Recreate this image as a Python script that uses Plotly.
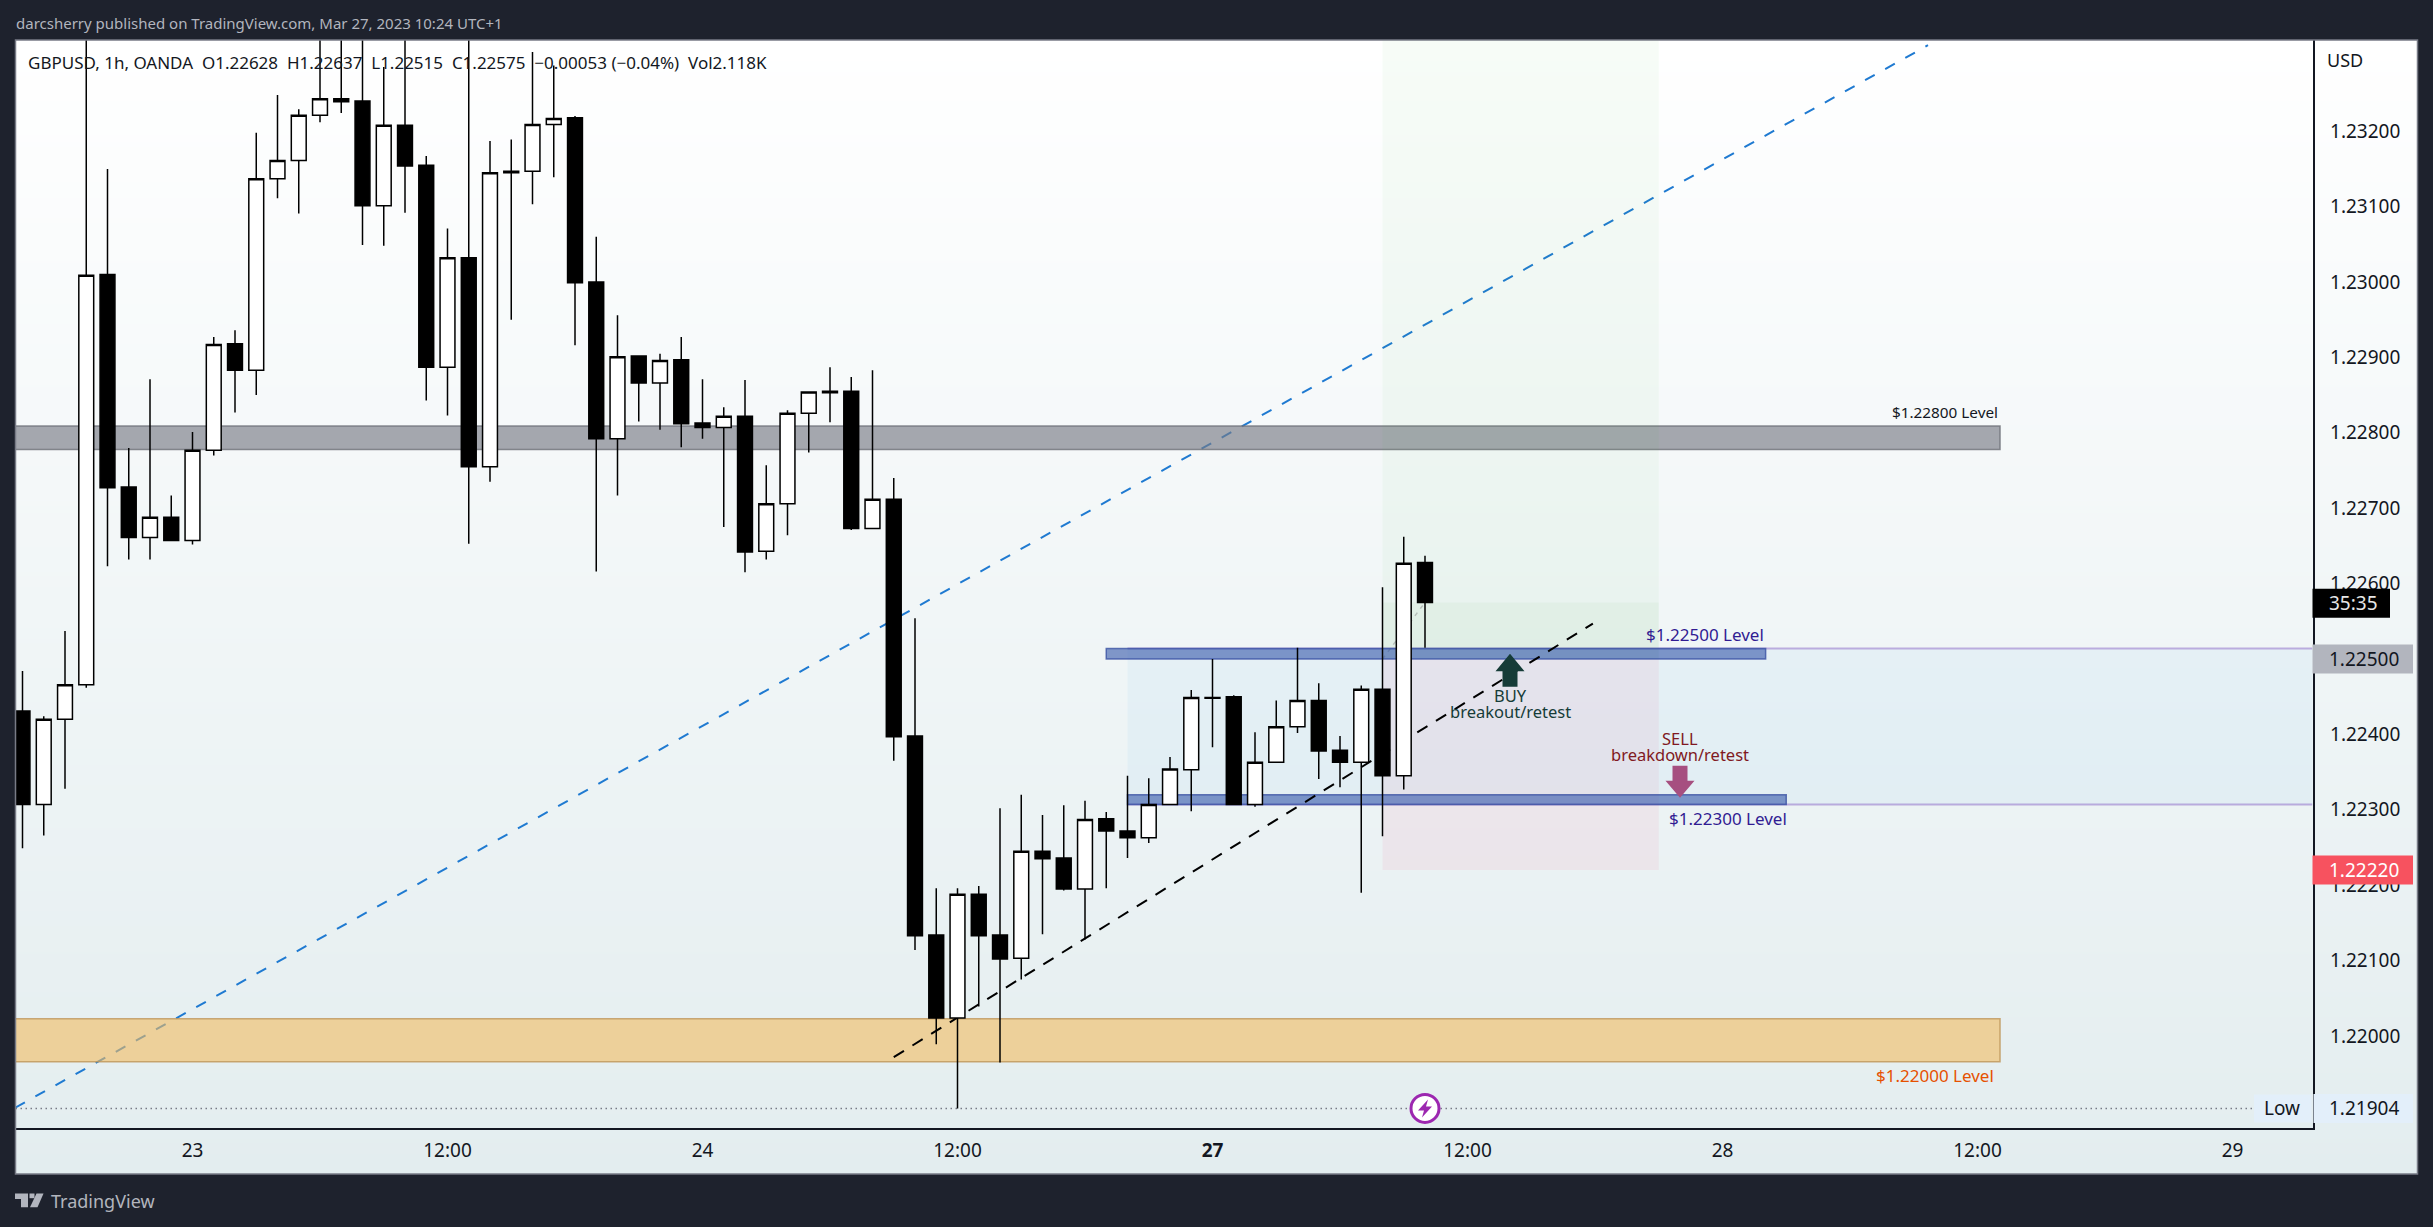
import plotly.graph_objects as go

opens = [1.22431, 1.22307, 1.22420, 1.22466, 1.23010, 1.22728, 1.22661, 1.22688, 1.22657, 1.22777,
         1.22918, 1.22883, 1.23137, 1.23161, 1.23221, 1.23243, 1.23240, 1.23101, 1.23208, 1.23155,
         1.22887, 1.23032, 1.22755, 1.23147, 1.23147, 1.23209, 1.23218, 1.23000, 1.22792, 1.22902,
         1.22866, 1.22897, 1.22813, 1.22807, 1.22822, 1.22643, 1.22706, 1.22826, 1.22855, 1.22855,
         1.22673, 1.22712, 1.22398, 1.22134, 1.22024, 1.22188, 1.22134, 1.22103, 1.22245, 1.22236,
         1.22195, 1.22288, 1.22272, 1.22263, 1.22307, 1.22353, 1.22449, 1.22450, 1.22307, 1.22363,
         1.22410, 1.22445, 1.22379, 1.22363, 1.22460, 1.22345, 1.22628]
highs = [1.22484, 1.22424, 1.22537, 1.23400, 1.23150, 1.22780, 1.22871, 1.22717, 1.22801, 1.22927,
         1.22936, 1.23198, 1.23248, 1.23229, 1.23400, 1.23400, 1.23400, 1.23285, 1.23400, 1.23167,
         1.23071, 1.23400, 1.23187, 1.23189, 1.23305, 1.23287, 1.23220, 1.23060, 1.22956, 1.22902,
         1.22905, 1.22927, 1.22871, 1.22834, 1.22870, 1.22757, 1.22830, 1.22855, 1.22887, 1.22874,
         1.22883, 1.22740, 1.22554, 1.22196, 1.22196, 1.22199, 1.22302, 1.22320, 1.22293, 1.22306,
         1.22312, 1.22297, 1.22345, 1.22342, 1.22370, 1.22459, 1.22500, 1.22452, 1.22403, 1.22445,
         1.22515, 1.22468, 1.22398, 1.22465, 1.22595, 1.22662, 1.22637]
lows = [1.22249, 1.22266, 1.22328, 1.22462, 1.22623, 1.22632, 1.22632, 1.22657, 1.22652, 1.22770,
        1.22827, 1.22850, 1.23111, 1.23091, 1.23212, 1.23224, 1.23049, 1.23048, 1.23092, 1.22843,
        1.22823, 1.22653, 1.22735, 1.22950, 1.23103, 1.23139, 1.22916, 1.22616, 1.22717, 1.22815,
        1.22804, 1.22781, 1.22792, 1.22675, 1.22615, 1.22632, 1.22664, 1.22774, 1.22814, 1.22671,
        1.22673, 1.22365, 1.22114, 1.21989, 1.21904, 1.22039, 1.21965, 1.22075, 1.22135, 1.22193,
        1.22128, 1.22196, 1.22236, 1.22256, 1.22307, 1.22298, 1.22383, 1.22307, 1.22304, 1.22363,
        1.22402, 1.22341, 1.22330, 1.22190, 1.22265, 1.22327, 1.22515]
closes = [1.22307, 1.22420, 1.22466, 1.23009, 1.22727, 1.22661, 1.22688, 1.22657, 1.22777, 1.22917,
          1.22883, 1.23137, 1.23161, 1.23221, 1.23243, 1.23239, 1.23101, 1.23208, 1.23154, 1.22887,
          1.23032, 1.22755, 1.23145, 1.23145, 1.23209, 1.23217, 1.22999, 1.22792, 1.22901, 1.22866,
          1.22896, 1.22812, 1.22807, 1.22822, 1.22642, 1.22706, 1.22826, 1.22854, 1.22853, 1.22673,
          1.22712, 1.22397, 1.22133, 1.22024, 1.22188, 1.22133, 1.22102, 1.22245, 1.22235, 1.22195,
          1.22287, 1.22272, 1.22263, 1.22307, 1.22354, 1.22449, 1.22448, 1.22307, 1.22363, 1.22410,
          1.22445, 1.22378, 1.22363, 1.22460, 1.22345, 1.22627, 1.22575]
bars = list(range(len(closes)))

time_tick_bars = [8, 20, 32, 44, 56, 68, 80, 92, 104]
time_tick_labels = ["23", "12:00", "24", "12:00", "<b>27</b>", "12:00", "28", "12:00", "29"]
price_ticks = [1.232, 1.231, 1.230, 1.229, 1.228, 1.227, 1.226, 1.225, 1.224, 1.223, 1.222, 1.221, 1.220]
price_tick_labels = ["%.5f" % p for p in price_ticks]

grey_zone = [1.22778, 1.22809]
orange_zone = [1.21966, 1.22023]
upper_zone = [1.22500, 1.22514]
lower_zone = [1.22307, 1.22320]
low_price = 1.21904
stop_price = 1.22220
entry_price = 1.22500
last_close = 1.22575
blue_trend = [(-0.34, 1.21905), (89.67, 1.23314)]
black_trend = [(41.0, 1.21972), (73.9, 1.22547)]

W, H = 2433, 1227
DARK = "#1e222d"
INK = "#131722"
FONT = "Noto Sans"

PANE_L, PANE_R, PANE_T, PANE_B = 15.5, 2417.5, 40, 1174
CHART_R, CHART_B = 2312.5, 1128
X_RANGE = [(PANE_L - 22.5) / 21.25, (CHART_R - 22.5) / 21.25]
Y_RANGE = [1.22 + (1036 - CHART_B) / 75400, 1.22 + (1036 - PANE_T) / 75400]


def below(kind, x0, x1, y0, y1, fill=None, line=None, width=0, dash=None):
    return dict(type=kind, xref="x2", yref="y2", x0=x0, x1=x1, y0=y0, y1=y1, layer="below",
                fillcolor=fill, line=dict(color=line, width=width, dash=dash))


def label(x, y, text, color, size=16.5, anchor="center"):
    return dict(x=x, y=y, xref="x2", yref="y2", text=text, showarrow=False, xanchor=anchor,
                yanchor="middle", font=dict(family=FONT, size=size, color=color))


def pixel_path(x, y, path, fill, xref="x2", yref="y2"):
    return dict(type="path", xref=xref, yref=yref, xsizemode="pixel", ysizemode="pixel",
                xanchor=x, yanchor=y, path=path, fillcolor=fill, line=dict(width=0), layer="above")


def price_tag(price, text, fill, color, x0=2312.5, x1=2413, h=29):
    shape = dict(type="rect", xref="paper", yref="y2", ysizemode="pixel", yanchor=price,
                 x0=x0 / W, x1=x1 / W, y0=-h / 2, y1=h / 2, fillcolor=fill,
                 line=dict(width=0), layer="above")
    note = dict(x=2327 / W, y=price, xref="paper", yref="y2", text=text, showarrow=False,
                xanchor="left", yanchor="middle", font=dict(family=FONT, size=19, color=color))
    return shape, note


fig = go.Figure()

# the pale gradient behind everything, on its own axes so it also covers the price and time scales
fig.add_trace(go.Heatmap(x=[0, 1], y=[0, 1], z=[[1, 1], [0, 0]], zsmooth="best", showscale=False,
                         colorscale=[[0, "#ffffff"], [1, "#e3edef"]],
                         hoverinfo="skip", xaxis="x", yaxis="y"))

fig.add_trace(go.Candlestick(x=bars, open=opens, high=highs, low=lows, close=closes,
                             xaxis="x2", yaxis="y2", whiskerwidth=0,
                             increasing=dict(fillcolor="#ffffff", line=dict(color="#000000", width=1.5)),
                             decreasing=dict(fillcolor="#000000", line=dict(color="#000000", width=1.5)),
                             showlegend=False))

shapes = [
    below("line", blue_trend[0][0], blue_trend[1][0], blue_trend[0][1], blue_trend[1][1],
          line="#1f7ad1", width=2, dash="11px,12px"),
    below("rect", X_RANGE[0] - 2, 93.06, grey_zone[0], grey_zone[1],
          fill="rgba(120,123,134,0.65)", line="rgba(110,113,120,0.8)", width=1.5),
    below("rect", X_RANGE[0] - 2, 93.06, orange_zone[0], orange_zone[1],
          fill="rgba(242,186,96,0.6)", line="rgba(190,150,90,0.8)", width=1.5),
    below("rect", 52, X_RANGE[1] + 2, lower_zone[0], upper_zone[1], fill="rgba(33,150,243,0.05)"),
    below("line", 52, X_RANGE[1], upper_zone[1], upper_zone[1], line="rgba(126,87,194,0.45)", width=2),
    below("line", 52, X_RANGE[1], lower_zone[0], lower_zone[0], line="rgba(126,87,194,0.45)", width=2),
    below("rect", 64, 77, entry_price, Y_RANGE[1] + 0.001, fill="rgba(76,175,80,0.045)"),
    below("rect", 64, 77, stop_price, entry_price, fill="rgba(233,30,99,0.06)"),
    below("rect", 64, 77, entry_price, last_close, fill="rgba(76,175,80,0.05)"),
    below("line", 64, 66, entry_price, last_close, line="rgba(130,130,130,0.45)", width=1.5, dash="4px,5px"),
    below("rect", 51, 82.03, upper_zone[0], upper_zone[1],
          fill="rgba(52,86,170,0.6)", line="rgba(52,76,160,0.75)", width=1.5),
    below("rect", 52, 83, lower_zone[0], lower_zone[1],
          fill="rgba(52,86,170,0.6)", line="rgba(52,76,160,0.75)", width=1.5),
    below("line", X_RANGE[0], 105, low_price, low_price, line="#787b86", width=1.5, dash="1.5px,3.5px"),
    below("line", black_trend[0][0], black_trend[1][0], black_trend[0][1], black_trend[1][1],
          line="#000000", width=2, dash="12px,10px"),
    # buy and sell arrows, lightning bolt
    pixel_path(70, 1.22507, "M0,0 L14.5,-17.5 L7.5,-17.5 L7.5,-33 L-7.5,-33 L-7.5,-17.5 L-14.5,-17.5 Z", "#163c38"),
    pixel_path(78, 1.22316, "M0,0 L14.5,17 L7.5,17 L7.5,32 L-7.5,32 L-7.5,17 L-14.5,17 Z", "#a64f80"),
    pixel_path(66, low_price, "M3,9 L-7,-2 L-1,-2 L-3,-9 L7,2 L1,2 Z", "#9c27b0"),
    # TradingView logo
    pixel_path(15 / W, 1 - 1193.5 / H, "M0,0 L13,0 L13,-13.7 L6,-13.7 L6,-5.5 L0,-5.5 Z", "#b2b5be", "paper", "paper"),
    pixel_path(15 / W, 1 - 1193.5 / H, "M21.5,0 L28.5,0 L22.5,-13.7 L15,-13.7 Z", "#b2b5be", "paper", "paper"),
    pixel_path(15 / W, 1 - 1193.5 / H, "M14.5,0 L19.5,0 L19.5,-4.7 L14.5,-4.7 Z", "#b2b5be", "paper", "paper"),
    # pane frame
    dict(type="rect", xref="paper", yref="paper", x0=PANE_L / W, x1=PANE_R / W,
         y0=1 - PANE_B / H, y1=1 - PANE_T / H, line=dict(color="#787b86", width=1.5), layer="above"),
]

annotations = [
    dict(x=14 / W, y=1 - 23 / H, xref="paper", yref="paper", showarrow=False, xanchor="left", yanchor="middle",
         text="darcsherry published on TradingView.com, Mar 27, 2023 10:24 UTC+1",
         font=dict(family=FONT, size=15, color="#b2b5be")),
    dict(x=26 / W, y=1 - 62 / H, xref="paper", yref="paper", showarrow=False, xanchor="left", yanchor="middle",
         text="GBPUSD, 1h, OANDA\u00a0\u00a0O1.22628\u00a0\u00a0H1.22637\u00a0\u00a0L1.22515\u00a0\u00a0C1.22575"
              "\u00a0\u00a0\u22120.00053 (\u22120.04%)\u00a0\u00a0Vol2.118K",
         font=dict(family=FONT, size=17, color=INK)),
    dict(x=2325 / W, y=1 - 60 / H, xref="paper", yref="paper", showarrow=False, xanchor="left", yanchor="middle",
         text="USD", font=dict(family=FONT, size=18, color=INK)),
    dict(x=49 / W, y=1 - 1201 / H, xref="paper", yref="paper", showarrow=False, xanchor="left", yanchor="middle",
         text="TradingView", font=dict(family=FONT, size=18, color="#b2b5be")),
    label(93.05, 1.22828, "$1.22800 Level", INK, 15.3, "right"),
    label(82.05, 1.22533, "$1.22500 Level", "#311b92", 17, "right"),
    label(83.12, 1.22288, "$1.22300 Level", "#311b92", 17, "right"),
    label(92.85, 1.21948, "$1.22000 Level", "#e65100", 17, "right"),
    label(70, 1.22452, "BUY", "#163c38"),
    label(70, 1.22431, "breakout/retest", "#163c38"),
    label(78, 1.22395, "SELL", "#801922"),
    label(78, 1.22374, "breakdown/retest", "#801922"),
    dict(x=2282 / W, y=low_price, xref="paper", yref="y2", text="Low", showarrow=False,
         xanchor="center", yanchor="middle", font=dict(family=FONT, size=19, color=INK)),
]

for price, text, fill, color in [(entry_price, "1.22500", "#b2b5be", INK),
                                 (stop_price, "1.22220", "#f7525f", "#ffffff"),
                                 (low_price, "1.21904", "#e3effa", INK)]:
    s, a = price_tag(price, text, fill, color, x0=2313.5 if price == low_price else 2312.5)
    shapes.append(s)
    annotations.append(a)

# countdown tag and the left half of the Low tag
s, a = price_tag(1.22574, "35:35", "#000000", "#e6e6e6", x1=2390)
shapes.append(s)
annotations.append(a)
shapes.append(dict(type="rect", xref="paper", yref="y2", ysizemode="pixel", yanchor=low_price,
                   x0=2254 / W, x1=2311.5 / W, y0=-14, y1=14, fillcolor="#e3effa",
                   line=dict(width=0), layer="above"))

fig.update_layout(
    width=W, height=H, autosize=False, margin=dict(l=0, r=0, t=0, b=0, pad=0),
    paper_bgcolor=DARK, plot_bgcolor="rgba(0,0,0,0)", showlegend=False,
    boxgap=0.3, boxgroupgap=0,
    font=dict(family=FONT, color=INK),
    xaxis=dict(domain=[PANE_L / W, PANE_R / W], range=[0, 1], visible=False, fixedrange=True),
    yaxis=dict(domain=[1 - PANE_B / H, 1 - PANE_T / H], range=[0, 1], visible=False, fixedrange=True),
    xaxis2=dict(domain=[PANE_L / W, CHART_R / W], range=X_RANGE, anchor="y2",
                tickmode="array", tickvals=time_tick_bars, ticktext=time_tick_labels,
                ticks="outside", ticklen=4, tickcolor="rgba(0,0,0,0)",
                tickfont=dict(family=FONT, size=19, color=INK), tickangle=0,
                showgrid=False, zeroline=False, showline=True, linecolor=INK, linewidth=1.5,
                rangeslider=dict(visible=False)),
    yaxis2=dict(domain=[1 - CHART_B / H, 1 - PANE_T / H], range=Y_RANGE, anchor="x2", side="right",
                tickmode="array", tickvals=price_ticks, ticktext=price_tick_labels,
                ticks="outside", ticklen=12, tickcolor="rgba(0,0,0,0)",
                tickfont=dict(family=FONT, size=19, color=INK),
                showgrid=False, zeroline=False, showline=True, linecolor=INK, linewidth=1.5),
    shapes=shapes, annotations=annotations,
)

# lightning badge circle sits on the low line
fig.add_trace(go.Scatter(x=[bars[-1]], y=[low_price], mode="markers", xaxis="x2", yaxis="y2",
                         marker=dict(size=28, color="#ffffff", line=dict(color="#9c27b0", width=3)),
                         hoverinfo="skip", showlegend=False))

fig.write_html("out.html", config={"displayModeBar": False},
               post_script="document.body.style.margin='0';")
